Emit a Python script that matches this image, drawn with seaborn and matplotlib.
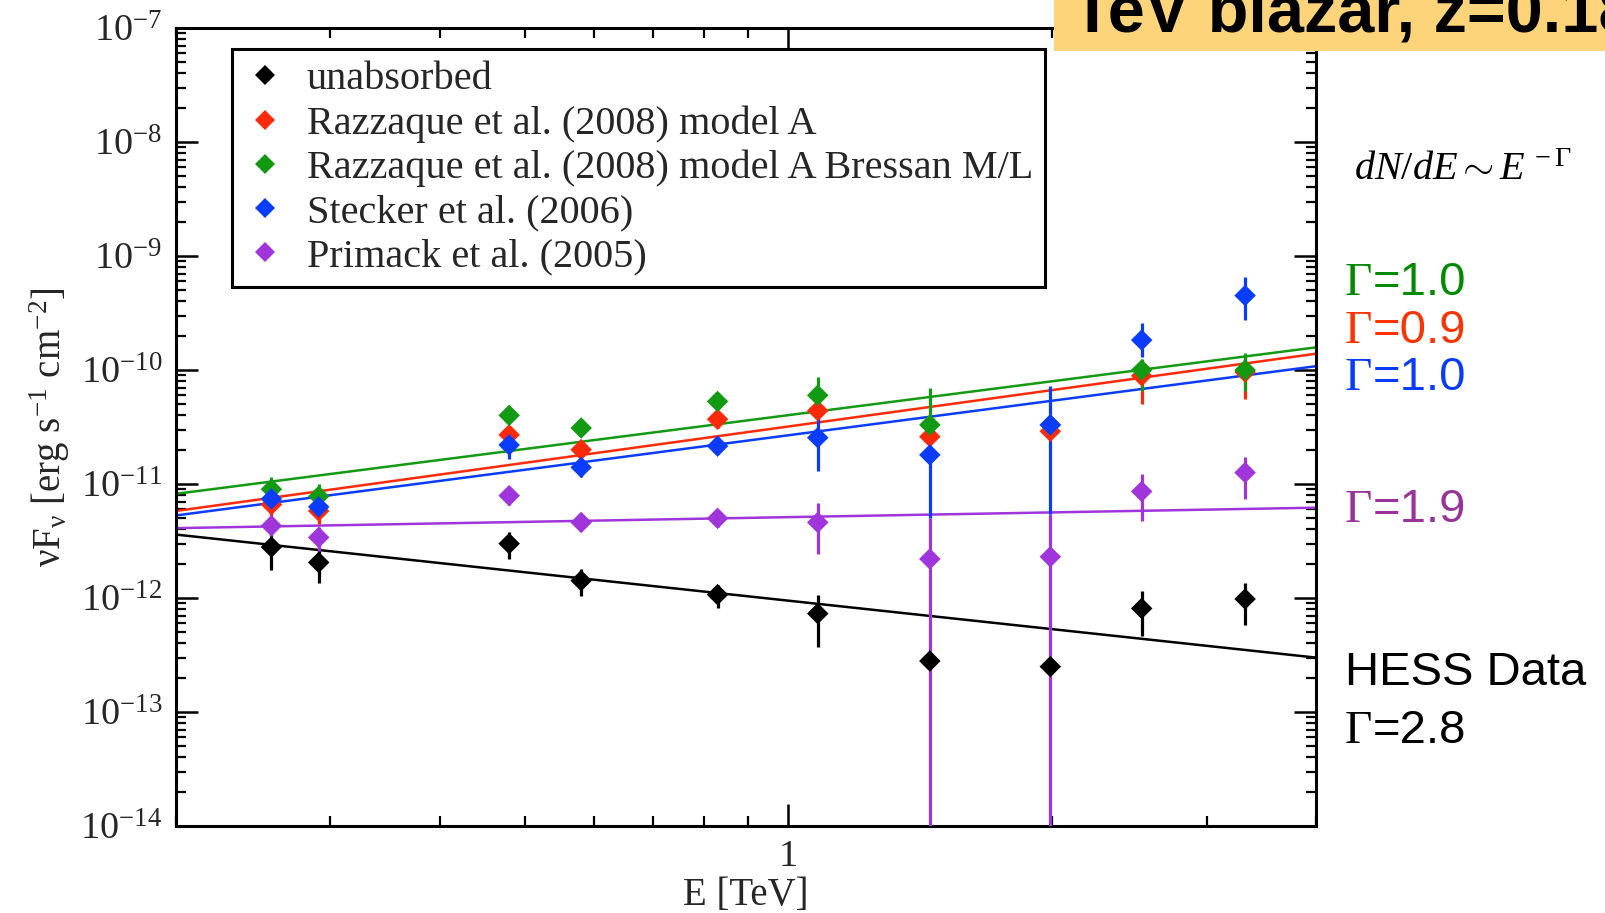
import numpy as np
import pandas as pd
import matplotlib
matplotlib.use("Agg")
import matplotlib.pyplot as plt
from matplotlib.patches import Rectangle
from matplotlib.ticker import FixedLocator, FixedFormatter, NullFormatter
import seaborn as sns

# ---------------- data ----------------
energy = [0.257, 0.291, 0.48, 0.58, 0.83, 1.08, 1.45, 1.99, 2.53, 3.32]

unabsorbed = [2.8e-12, 2.05e-12, 3.0e-12, 1.42e-12, 1.07e-12, 7.3e-13, 2.8e-13, 2.5e-13, 8.1e-13, 9.8e-13]
unabsorbed_lo = [1.75e-12, 1.35e-12, 2.2e-12, 1.05e-12, 0.82e-12, 3.7e-13, 2.8e-13, 2.5e-13, 4.6e-13, 5.8e-13]
unabsorbed_hi = [3.7e-12, 2.8e-12, 3.8e-12, 1.8e-12, 1.3e-12, 1.07e-12, 2.8e-13, 2.5e-13, 1.15e-12, 1.35e-12]

model_a = [6.6e-12, 5.8e-12, 2.7e-11, 2.0e-11, 3.7e-11, 4.4e-11, 2.6e-11, 2.9e-11, 8.9e-11, 9.6e-11]
model_a_lo = [5.0e-12, 4.5e-12, 2.3e-11, 1.75e-11, 3.1e-11, 3.6e-11, 2.3e-11, 2.6e-11, 5.0e-11, 5.6e-11]
model_a_hi = [8.0e-12, 7.0e-12, 3.0e-11, 2.3e-11, 4.4e-11, 5.4e-11, 3.0e-11, 3.2e-11, 1.2e-10, 1.3e-10]

model_a_ml = [9.0e-12, 7.8e-12, 4.0e-11, 3.1e-11, 5.3e-11, 6.0e-11, 3.3e-11, 3.3e-11, 1.0e-10, 1.0e-10]
model_a_ml_lo = [7.5e-12, 6.5e-12, 3.5e-11, 2.7e-11, 4.6e-11, 4.7e-11, 2.9e-11, 2.9e-11, 6.5e-11, 6.5e-11]
model_a_ml_hi = [1.15e-11, 1.0e-11, 4.6e-11, 3.6e-11, 6.0e-11, 8.7e-11, 6.9e-11, 3.7e-11, 1.25e-10, 1.4e-10]

stecker = [7.4e-12, 6.3e-12, 2.2e-11, 1.4e-11, 2.15e-11, 2.55e-11, 1.8e-11, 3.3e-11, 1.83e-10, 4.5e-10]
stecker_lo = [6.2e-12, 5.2e-12, 1.66e-11, 1.15e-11, 1.85e-11, 1.3e-11, 5.0e-12, 5.5e-12, 1.3e-10, 2.75e-10]
stecker_hi = [8.6e-12, 7.5e-12, 2.6e-11, 1.75e-11, 2.5e-11, 4.2e-11, 2.2e-11, 7.3e-11, 2.6e-10, 6.5e-10]

primack = [4.3e-12, 3.4e-12, 7.9e-12, 4.6e-12, 5.0e-12, 4.6e-12, 2.2e-12, 2.3e-12, 8.6e-12, 1.26e-11]
primack_lo = [3.5e-12, 2.6e-12, 6.6e-12, 3.9e-12, 4.2e-12, 2.45e-12, 1e-16, 1e-16, 4.7e-12, 7.4e-12]
primack_hi = [5.3e-12, 4.2e-12, 9.5e-12, 5.4e-12, 5.9e-12, 6.8e-12, 5.0e-12, 5.5e-12, 1.23e-11, 1.74e-11]

# power-law fit lines, values read at the ends of the axis
fit_energy = [0.2, 4.0]
fit_unabsorbed = [3.6e-12, 3.0e-13]
fit_model_a = [5.8e-12, 1.39e-10]
fit_model_a_ml = [8.2e-12, 1.58e-10]
fit_stecker = [5.3e-12, 1.08e-10]
fit_primack = [4.1e-12, 6.2e-12]

series = ["unabsorbed",
          "Razzaque et al. (2008) model A",
          "Razzaque et al. (2008) model A Bressan M/L",
          "Stecker et al. (2006)",
          "Primack et al. (2005)"]
colors = ["#000000", "#ff2a0a", "#139a13", "#0a3cff", "#a035dc"]

y_ticks = [1e-14, 1e-13, 1e-12, 1e-11, 1e-10, 1e-9, 1e-8, 1e-7]
y_tick_labels = [r"$\mathregular{10^{-14}}$", r"$\mathregular{10^{-13}}$", r"$\mathregular{10^{-12}}$",
                 r"$\mathregular{10^{-11}}$", r"$\mathregular{10^{-10}}$", r"$\mathregular{10^{-9}}$",
                 r"$\mathregular{10^{-8}}$", r"$\mathregular{10^{-7}}$"]
x_ticks = [1]
x_tick_labels = ["1"]

gamma_labels = ["=1.0", "=0.9", "=1.0", "=1.9"]
gamma_colors = ["#008a00", "#ff3300", "#0a3cff", "#993399"]

# ---------------- tables ----------------
vals = [unabsorbed, model_a, model_a_ml, stecker, primack]
los = [unabsorbed_lo, model_a_lo, model_a_ml_lo, stecker_lo, primack_lo]
his = [unabsorbed_hi, model_a_hi, model_a_ml_hi, stecker_hi, primack_hi]
fits = [fit_unabsorbed, fit_model_a, fit_model_a_ml, fit_stecker, fit_primack]

pts = pd.concat([pd.DataFrame({"E": energy, "flux": v, "lo": l, "hi": h, "series": s})
                 for s, v, l, h in zip(series, vals, los, his)], ignore_index=True)
fit_df = pd.concat([pd.DataFrame({"E": fit_energy, "flux": f, "series": s})
                    for s, f in zip(series, fits)], ignore_index=True)
palette = dict(zip(series, colors))

# ---------------- style ----------------
sns.set_theme(style="ticks")
plt.rcParams["font.family"] = ["Liberation Serif", "DejaVu Serif"]
plt.rcParams["mathtext.fontset"] = "custom"
plt.rcParams["mathtext.rm"] = "Liberation Serif"
plt.rcParams["mathtext.it"] = "Liberation Serif:italic"
plt.rcParams["mathtext.bf"] = "Liberation Serif:bold"

W, H = 1606, 913
fig = plt.figure(figsize=(W / 100, H / 100), dpi=100)
ax = fig.add_axes([176 / W, 1 - 826 / H, 1140 / W, 798 / H])

# fit lines
sns.lineplot(data=fit_df, x="E", y="flux", hue="series", palette=palette,
             hue_order=series, linewidth=1.8, legend=False, ax=ax,
             estimator=None, sort=False, zorder=2)

# error bars
for s, c in zip(series, colors):
    d = pts[pts.series == s]
    ax.errorbar(d.E, d.flux, yerr=[d.flux - d.lo, d.hi - d.flux], fmt="none",
                ecolor=c, elinewidth=2.3, capsize=0, zorder=3)

# markers
sns.scatterplot(data=pts, x="E", y="flux", hue="series", palette=palette,
                hue_order=series, marker="D", s=120, linewidth=0, ax=ax, zorder=4)

ax.set_xscale("log")
ax.set_yscale("log")
ax.set_xlim(0.2, 4.0)
ax.set_ylim(1e-14, 1e-7)

ax.yaxis.set_major_locator(FixedLocator(y_ticks))
ax.yaxis.set_major_formatter(FixedFormatter(y_tick_labels))
ax.yaxis.set_minor_locator(matplotlib.ticker.LogLocator(base=10, subs=np.arange(2, 10), numticks=20))
ax.yaxis.set_minor_formatter(NullFormatter())
ax.xaxis.set_major_locator(FixedLocator(x_ticks))
ax.xaxis.set_major_formatter(FixedFormatter(x_tick_labels))
ax.xaxis.set_minor_locator(matplotlib.ticker.LogLocator(base=10, subs=np.arange(2, 10), numticks=20))
ax.xaxis.set_minor_formatter(NullFormatter())

ax.tick_params(which="both", direction="in", top=True, right=True, color="black")
ax.tick_params(which="major", length=16, width=1.8, labelsize=27.5, pad=10)
ax.tick_params(which="minor", length=7.5, width=1.6)
for sp in ax.spines.values():
    sp.set_linewidth(2.2)
    sp.set_color("black")
    sp.set_visible(True)

ax.set_xlabel("E [TeV]", fontsize=28, labelpad=2)
ax.set_ylabel(r"νF$_{\mathregular{ν}}$ [erg s$^{\mathregular{-1}}$ cm$^{\mathregular{-2}}$]",
              fontsize=28, labelpad=6)

# legend
handles, labels = ax.get_legend_handles_labels()
leg = ax.legend(handles, labels, loc="upper left", bbox_to_anchor=(0.0495, 0.9737),
                borderaxespad=0, frameon=True, fancybox=False, edgecolor="black",
                framealpha=1, fontsize=29, handlelength=1.0, handletextpad=0.55,
                borderpad=0.3, labelspacing=0.17, markerscale=0.95)
leg.get_frame().set_linewidth(2.2)

# ---------------- annotations on the right ----------------
fig.text(1354 / W, 1 - 180 / H, r"$dN/dE \sim E^{\,-\Gamma}$", fontsize=29,
         color="black", va="baseline", ha="left")

gamma_base = [295, 343, 390, 522]
for lab, col, yb in zip(gamma_labels, gamma_colors, gamma_base):
    t = fig.text(1345 / W, 1 - yb / H, "Γ", family=["Liberation Serif"], fontsize=34,
                 color=col, va="baseline", ha="left")
    a = matplotlib.text.Annotation(lab, xy=(1, 0), xycoords=t,
                                   va="bottom", ha="left", fontsize=34, color=col,
                                   family=["Liberation Sans"], annotation_clip=False)
    a.set_figure(fig)
    fig.texts.append(a)

fig.text(1345 / W, 1 - 685 / H, "HESS Data", family=["Liberation Sans"], fontsize=34,
         color="black", va="baseline", ha="left")
t28 = fig.text(1345 / W, 1 - 743 / H, "Γ", family=["Liberation Serif"], fontsize=34,
               color="black", va="baseline", ha="left")
a28 = matplotlib.text.Annotation("=2.8", xy=(1, 0), xycoords=t28, va="bottom", ha="left",
                                 fontsize=34, color="black", family=["Liberation Sans"],
                                 annotation_clip=False)
a28.set_figure(fig)
fig.texts.append(a28)

# title box (cut at the top edge, as in the slide)
fig.patches.append(Rectangle((1054 / W, 1 - 51 / H), 1 - 1054 / W, 51 / H,
                             transform=fig.transFigure, facecolor="#fed47a",
                             edgecolor="none", zorder=0))
fig.text(1072 / W, 1 - 31 / H, "TeV blazar, z=0.186", family=["Liberation Sans"],
         fontweight="bold", fontsize=48, color="black", va="baseline", ha="left")

fig.savefig("out.png", dpi=100)
